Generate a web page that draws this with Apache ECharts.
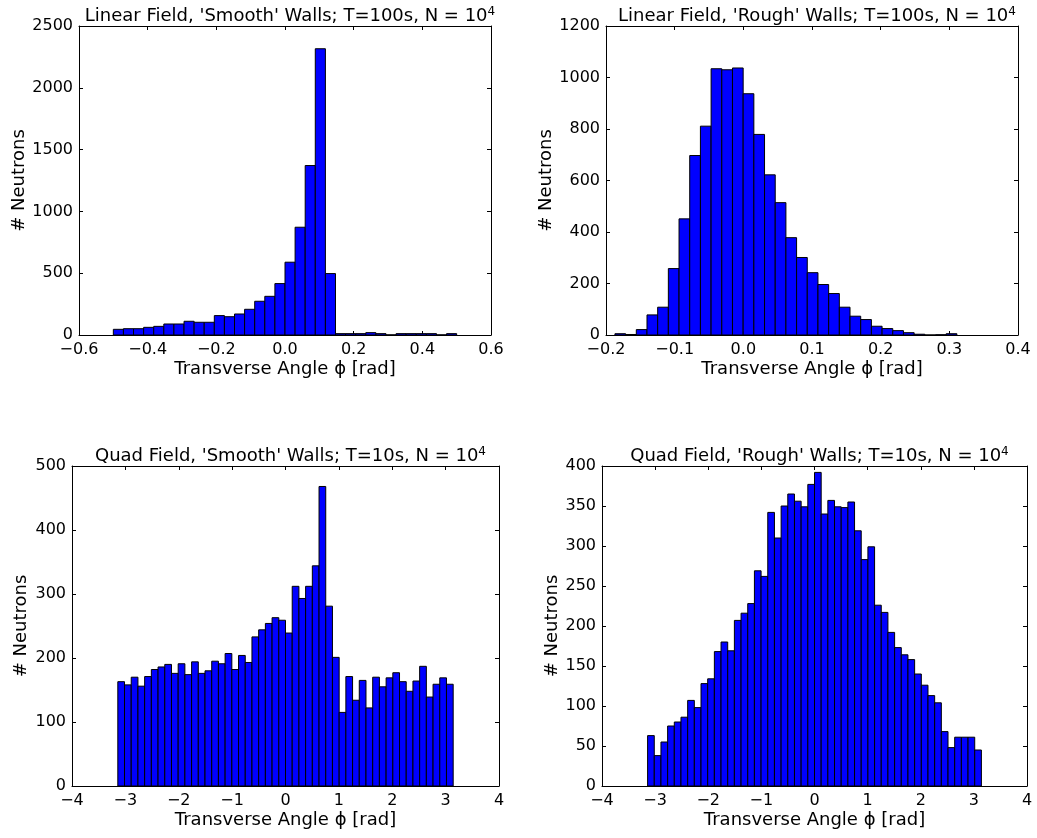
<!DOCTYPE html>
<html>
<head>
<meta charset="utf-8">
<script src="https://cdn.jsdelivr.net/npm/echarts@6/dist/echarts.min.js"></script>
<style>
html,body{margin:0;padding:0;background:#fff;}
#chart{width:1037px;height:838px;}
</style>
</head>
<body>
<div id="chart"></div>
<script>
// ---- Data ----
const titles = [
  "Linear Field, 'Smooth' Walls; T=100s, N = 10",
  "Linear Field, 'Rough' Walls; T=100s, N = 10",
  "Quad Field, 'Smooth' Walls; T=10s, N = 10",
  "Quad Field, 'Rough' Walls; T=10s, N = 10"
];
const titleSup = "4";
const xLabel = "Transverse Angle \u03D5 [rad]";
const yLabel = "# Neutrons";

// histogram ranges [min, max] of the binned data
const linSmoothRange = [-0.5, 0.5];
const linRoughRange = [-0.187, 0.311];
const quadSmoothRange = [-3.1416, 3.1416];
const quadRoughRange = [-3.1416, 3.1416];

const linSmoothCounts = [46,51,51,62,70,89,89,111,103,103,157,148,170,208,273,313,416,589,872,1371,2316,497,11,11,11,19,11,1,11,11,11,11,1,11];
const linRoughCounts = [5,2,21,78,108,258,451,697,811,1034,1030,1037,937,779,622,514,378,301,242,196,161,108,73,60,34,25,17,9,3,0,1,5];
const quadSmoothCounts = [163,158,170,156,171,182,186,190,176,191,174,194,176,180,195,191,207,182,204,193,233,244,254,263,259,239,312,293,312,344,468,281,201,115,171,134,165,122,170,155,169,177,163,148,164,187,139,159,169,159];
const quadRoughCounts = [63,38,55,75,80,86,107,98,128,134,168,180,169,207,216,228,269,262,342,310,350,365,356,349,377,392,340,357,349,348,355,319,283,299,226,217,192,173,164,158,140,126,113,104,68,48,61,61,61,45];

// axis scales [min, max, interval]
const xScales = [[-0.6,0.6,0.2],[-0.2,0.4,0.1],[-4,4,1],[-4,4,1]];
const yScales = [[0,2500,500],[0,1200,200],[0,500,100],[0,400,50]];
const xDecimals = [1,1,0,0];

// ---- Build ----
const FONT = 'DejaVu Sans';
const grids = [
  {left:79, top:26, width:412, height:309},
  {left:606, top:26, width:412, height:309},
  {left:72, top:466, width:427, height:320},
  {left:602, top:466, width:425, height:320}
];
const allCounts = [linSmoothCounts, linRoughCounts, quadSmoothCounts, quadRoughCounts];
const allRanges = [linSmoothRange, linRoughRange, quadSmoothRange, quadRoughRange];

function binData(counts, range){
  const w = (range[1]-range[0])/counts.length;
  return counts.map((c,i)=>[range[0]+i*w, range[0]+(i+1)*w, c]);
}
function fmt(v, d){
  const s = Math.abs(v) < 1e-9 ? (0).toFixed(d) : v.toFixed(d);
  return s.replace('-', '\u2212');
}

const option = {
  backgroundColor:'#fff',
  animation:false,
  title:[], grid:[], xAxis:[], yAxis:[], series:[]
};

grids.forEach((g,i)=>{
  option.grid.push(Object.assign({containLabel:false}, g));
  option.title.push({
    text: titles[i] + '{sup|' + titleSup + '}',
    left: g.left + g.width/2,
    top: g.top - 25,
    textAlign:'center',
    textStyle:{
      fontFamily:FONT, fontSize:18, fontWeight:'normal', color:'#000',
      rich:{ sup:{fontFamily:FONT, fontSize:12, color:'#000', verticalAlign:'top', padding:[0,0,8,0]} }
    }
  });
  const xs = xScales[i], ys = yScales[i];
  const tick = {show:true, inside:true, length:4, lineStyle:{color:'#000', width:1}};
  const line = {show:true, onZero:false, lineStyle:{color:'#000', width:1}};
  option.xAxis.push({
    type:'value', gridIndex:i, position:'bottom', min:xs[0], max:xs[1], interval:xs[2],
    axisLine:line, axisTick:tick, splitLine:{show:false},
    axisLabel:{fontFamily:FONT, fontSize:16, color:'#000', margin:7, formatter:v=>fmt(v, xDecimals[i])},
    name:xLabel, nameLocation:'middle', nameGap:25,
    nameTextStyle:{fontFamily:FONT, fontSize:18, color:'#000'}
  });
  option.xAxis.push({
    type:'value', gridIndex:i, position:'top', min:xs[0], max:xs[1], interval:xs[2],
    axisLine:line, axisTick:tick, splitLine:{show:false}, axisLabel:{show:false}
  });
  option.yAxis.push({
    type:'value', gridIndex:i, position:'left', min:ys[0], max:ys[1], interval:ys[2],
    axisLine:line, axisTick:tick, splitLine:{show:false},
    axisLabel:{fontFamily:FONT, fontSize:16, color:'#000', margin:6, formatter:v=>String(v)},
    name:yLabel, nameLocation:'middle', nameGap:i%2===0 ? (g.left-30) : (g.left-565),
    nameTextStyle:{fontFamily:FONT, fontSize:18, color:'#000'}
  });
  option.yAxis.push({
    type:'value', gridIndex:i, position:'right', min:ys[0], max:ys[1], interval:ys[2],
    axisLine:line, axisTick:tick, splitLine:{show:false}, axisLabel:{show:false}
  });
  option.series.push({
    type:'custom',
    xAxisIndex:2*i, yAxisIndex:2*i,
    data: binData(allCounts[i], allRanges[i]),
    encode:{x:[0,1], y:2},
    clip:true,
    renderItem:function(params, api){
      const p0 = api.coord([api.value(0), 0]);
      const p1 = api.coord([api.value(1), api.value(2)]);
      return {
        type:'rect',
        shape:{x:p0[0], y:p1[1], width:p1[0]-p0[0], height:p0[1]-p1[1]},
        style:{fill:'#0000ff', stroke:'#000', lineWidth:1}
      };
    }
  });
});

const chart = echarts.init(document.getElementById('chart'), null, {renderer:'canvas'});
chart.setOption(option);
</script>
</body>
</html>
